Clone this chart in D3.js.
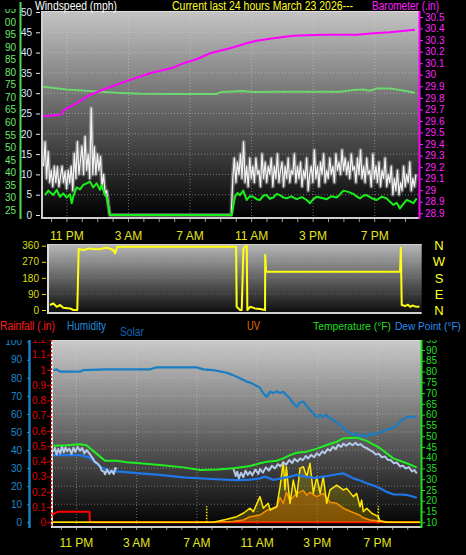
<!DOCTYPE html>
<html><head><meta charset="utf-8">
<script src="https://cdn.jsdelivr.net/npm/d3@7"></script>
<style>html,body{margin:0;padding:0;background:#000;overflow:hidden}</style>
</head><body>
<script>
// ================= DATA =================
// time in hours since chart start (~9:20 PM)
const timeTickHours = [1.62, 5.62, 9.62, 13.62, 17.62, 21.62];
const timeTickLabels = ["11 PM", "3 AM", "7 AM", "11 AM", "3 PM", "7 PM"];

const windTicks = [0,5,10,15,20,25,30,35,40,45,50];
const indoorTicks = [25,30,35,40,45,50,55,60,65,70,75,80,85,90,95,100,105];
const baroTicks = [30.5,30.4,30.3,30.2,30.1,30.0,29.9,29.8,29.7,29.6,29.5,29.4,29.3,29.2,29.1,29.0,28.9,28.8];
const baroTickLabels = ["30.5","30.4","30.3","30.2","30.1","30","29.9","29.8","29.7","29.6","29.5","29.4","29.3","29.2","29.1","29","28.9","28.9"];
const dirTicks = [0,90,180,270,360];
const dirLetters = ["N","E","S","W","N"];
const humTicks = [0,10,20,30,40,50,60,70,80,90,100];
const rainTicks = [0,0.1,0.2,0.3,0.4,0.5,0.6,0.7,0.8,0.9,1,1.1,1.2];
const tempTicks = [10,15,20,25,30,35,40,45,50,55,60,65,70,75,80,85,90,95];

// barometer (inHg)
const baroSeries = [[0.08,29.643],[1.17,29.652],[1.49,29.70],[2.03,29.738],[3.12,29.825],[4.2,29.883],[5.72,29.955],[7.02,30.013],[8.51,30.061],[9.18,30.099],[10.05,30.134],[10.92,30.186],[12.22,30.229],[13.3,30.272],[13.95,30.295],[15.03,30.316],[16.33,30.338],[18.28,30.347],[20.45,30.347],[21.53,30.359],[22.61,30.368],[24.24,30.389]];
// indoor temperature (F)
const indoorSeries = [[0.08,74.2],[1.6,73.1],[3.12,72.5],[4.85,71.8],[6.37,71.4],[8.51,71.3],[11.35,71.3],[11.68,72.1],[13.06,72.5],[13.73,72.1],[15.01,72.2],[17.2,72.2],[19.36,72.2],[20.23,72.9],[20.88,73.1],[21.31,72.6],[21.75,73.5],[22.61,73.5],[23.26,72.9],[24.24,71.8]];
// average wind (mph)
const windAvg = [[0.19,4.9],[0.41,6.0],[0.73,4.9],[0.96,6.2],[1.17,4.5],[1.38,5.3],[1.6,4.3],[1.82,5.1],[1.93,2.9],[2.03,4.5],[2.25,6.8],[2.47,6.3],[2.68,7.4],[2.9,7.8],[3.12,8.2],[3.33,6.8],[3.55,7.8],[3.77,6.2],[3.88,7.4],[4.09,4.9],[4.2,4.5],[4.42,0],[12.33,0],[12.54,4.5],[12.7,5.4],[12.87,4.9],[13.08,6.0],[13.3,3.7],[13.5,4.6],[13.73,4.5],[13.95,3.9],[14.16,3.7],[14.4,4.8],[14.6,4.9],[14.8,4.0],[15.03,4.3],[15.25,5.2],[15.46,4.9],[15.7,4.3],[15.9,4.1],[16.2,4.6],[16.55,3.9],[16.9,4.4],[17.2,3.7],[17.42,2.9],[17.6,3.8],[17.85,4.5],[18.2,4.2],[18.5,3.9],[18.8,4.6],[19.15,4.3],[19.35,5.0],[19.58,6.0],[19.9,5.7],[20.23,5.2],[20.45,4.6],[20.66,4.1],[20.9,4.8],[21.1,4.9],[21.4,4.2],[21.75,3.7],[22.1,4.5],[22.4,4.1],[22.6,3.3],[22.83,2.5],[23.05,3.0],[23.26,1.6],[23.5,2.8],[23.7,3.7],[23.9,3.4],[24.13,2.9],[24.35,4.1]];
// wind gust (mph), sampled every 0.1 h
const gustStep = 0.1;
const gust1Start = 0.1;
const gust1 = [12,18,9,15.6,8,11,7,12,8,11.9,7,9.4,12,8,10.7,6.5,11,7.9,12,6,15.2,9,18,10,13.5,17,10,19.3,11,15,9,26.3,10,16.8,10,15,11,14.4,7,10,5.4,6,3,0];
const gust2Start = 12.3;
const gust2 = [0,9,14,8,13,10,15,9,18,8,12,7,14,9,12,8,14,10,11,7,15,9,13,8,12,10,14,7,12,9,15,8,11,13,7,12,9,14,8,11,10,15,8,12,9,13,7,11,9,14,6,10,12,8,16,9,12,7,13,10,15,8,11,9,14,10,12,8,15,11,13,10,16,11,14,10,13,9,15,11,12,8,14,10,16,9,12,8,14,10,11,7,15,9,12,8,13,7,11,9,14,7,10,8,12,5,9,6,11,5,8,6,12,7,10,8,13,6,9,7,10];

// wind direction (degrees)
const dirSeries = [[0.13,28],[0.35,37],[0.57,18],[0.79,28],[1.0,13],[1.44,9],[1.66,0],[1.92,0],[2.01,341],[2.31,336],[2.75,345],[3.1,340],[3.41,341],[3.85,349],[4.28,336],[4.39,317],[4.54,354],[12.15,354],[12.33,354],[12.37,18],[12.59,0],[12.7,0],[12.81,345],[12.92,354],[13.03,360],[13.07,0],[13.25,18],[13.57,9],[13.9,5],[14.23,0],[14.24,308],[14.3,214],[23.08,214],[23.13,349],[23.19,28],[23.41,22],[23.6,30],[23.74,18],[23.9,25],[24.07,20],[24.35,18]];

// humidity (%)
const humSeries = [[0.09,84.3],[0.31,84.7],[0.53,83.4],[1.86,83.4],[2.08,84.3],[3.63,84.7],[6.51,84.7],[6.73,85.3],[6.95,85.8],[9.61,85.8],[10.05,84.7],[10.71,84.3],[11.6,82.8],[12.0,81.5],[12.48,79.7],[12.93,77.9],[13.2,77.2],[13.59,75.5],[13.8,74.5],[14.03,71.4],[14.26,69.5],[14.48,72.3],[14.7,71.5],[14.9,72.5],[15.14,71.6],[15.35,72.2],[15.58,70.4],[15.8,68.5],[16.05,65.5],[16.25,64],[16.45,66.2],[16.69,66.8],[16.9,64.5],[17.13,62.2],[17.35,60.2],[17.58,58.1],[17.8,59.5],[18.0,58.3],[18.2,59.6],[18.46,57.6],[18.7,56.5],[18.9,55.4],[19.12,53.9],[19.35,52.5],[19.55,50.5],[19.79,49.3],[20.0,48.2],[20.2,49.4],[20.45,47],[20.65,48.6],[20.9,47.4],[21.1,49.1],[21.33,48.3],[21.6,49.5],[21.99,50.2],[22.3,51.5],[22.66,52.3],[22.9,53.8],[23.11,55.7],[23.35,57.3],[23.55,58.1],[23.8,58.6],[24.0,58.3],[24.22,58.6]];
// temperature (F)
const tempSeries = [[0.09,45.6],[1.0,45.8],[1.86,46.2],[2.3,45.8],[2.52,44.4],[3.19,40.5],[3.52,38.6],[4.3,38.6],[4.96,37.9],[5.84,37.4],[7.17,36.6],[8.72,35.5],[9.83,34.3],[11.0,34.5],[12.04,35.1],[13.15,36.1],[13.81,37.4],[14.26,38.1],[14.92,38.6],[15.36,39.7],[15.8,41.2],[16.25,42.3],[16.91,42.8],[17.58,44.2],[18.24,45.9],[18.9,47.4],[19.34,49],[20.23,49.3],[20.9,47.8],[21.78,44.4],[22.66,39.7],[23.55,37.4],[24.22,35.5]];
// wind chill (F)
const chillSeries1 = [[0.09,42.8],[0.2,44.5],[0.3,41.5],[0.42,44],[0.55,42],[0.66,45.2],[0.78,42.5],[0.9,44.8],[1.0,43],[1.15,44.2],[1.3,41.8],[1.42,44.6],[1.55,42.7],[1.7,45],[1.86,43.2],[2.0,44.5],[2.15,42],[2.3,43.5],[2.52,41.5],[2.7,39.8],[2.85,38],[3.0,37.5],[3.19,36],[3.3,34],[3.45,33.5],[3.52,32.3],[3.65,34.5],[3.8,32.5],[3.95,34],[4.1,32.4],[4.2,35.2],[4.3,34.7]];
const chillSeries2 = [[12.04,35],[12.2,31.5],[12.3,33.5],[12.4,30.4],[12.55,33],[12.7,31],[12.85,34],[13.0,32],[13.15,33.5],[13.3,31.8],[13.5,34.5],[13.7,32.5],[13.81,34.8],[14.0,33],[14.2,35.5],[14.4,34],[14.6,36.2],[14.8,35],[15.0,37],[15.15,36],[15.36,37.8],[15.55,36.8],[15.75,38.9],[15.95,37.5],[16.1,39.5],[16.3,38.2],[16.47,39.7],[16.65,38.8],[16.85,40.8],[17.0,39.6],[17.2,41.3],[17.4,40.2],[17.58,42],[17.75,41],[17.95,43],[18.1,42],[18.3,44],[18.46,43.2],[18.65,45],[18.85,44],[19.0,46],[19.2,45],[19.34,46.5],[19.55,45.5],[19.75,46.8],[19.95,45.8],[20.15,46.9],[20.3,45.9],[20.5,46.2],[20.7,45],[20.9,44.4],[21.1,43.5],[21.3,42.8],[21.5,41.5],[21.7,41.8],[21.9,40.2],[22.1,40.6],[22.3,39],[22.5,38.8],[22.7,37.4],[22.9,37.8],[23.1,36],[23.3,36.3],[23.5,35],[23.7,35.6],[23.9,33.6],[24.05,34.3],[24.22,32.7]];
// dew point (F)
const dewSeries = [[0.09,41.2],[1.86,41.2],[2.52,40],[3.19,35.8],[3.85,33.8],[4.51,33.5],[5.84,32.7],[7.17,32],[8.72,30.9],[10.93,30],[12.26,29.6],[13.15,29.8],[13.81,30.4],[14.15,31.2],[14.7,29.7],[15.3,30.5],[15.8,31.2],[16.25,32],[16.91,31.1],[17.5,30.6],[18.0,31.2],[18.4,31.6],[18.9,32.3],[19.34,32.7],[19.6,31.8],[20.01,30.4],[20.45,29.4],[20.9,28.1],[21.3,27.2],[21.78,25.8],[22.2,24.2],[22.66,23],[23.1,22.9],[23.55,22.7],[23.9,22.1],[24.22,21.4]];
// rainfall (in)
const rainSeries = [[0.0,0.048],[0.2,0.06],[0.42,0.07],[2.49,0.07],[2.52,0],[24.4,0]];
// solar radiation (W/m2)
const solarSeries = [[0.0,0],[10.71,0],[11.6,17],[12.26,31],[12.7,50],[13.15,78],[13.37,59],[13.81,142],[14.03,78],[14.36,105],[14.48,68],[14.92,86],[15.14,197],[15.36,336],[15.47,179],[15.56,308],[15.8,105],[16.02,234],[16.25,142],[16.47,300],[16.69,308],[16.91,252],[17.13,327],[17.35,161],[17.58,252],[17.8,161],[18.01,252],[18.24,105],[18.46,179],[18.9,206],[19.34,179],[19.57,188],[20.01,142],[20.23,160],[20.45,86],[20.56,123],[20.67,59],[20.9,78],[21.23,50],[21.67,31],[21.78,7],[22.22,0],[24.45,0]];
// UV index (scaled x100)
const uvSeries = [[0.0,0],[10.49,0],[12.0,5],[12.7,13],[13.15,31],[13.81,40],[14.26,66],[14.92,86],[15.14,138],[15.36,105],[15.56,166],[15.8,122],[16.25,160],[16.69,177],[16.91,150],[17.13,166],[17.58,142],[18.01,160],[18.46,111],[18.9,105],[19.34,78],[19.79,61],[20.45,39],[20.67,25],[21.12,13],[22.22,3],[22.78,0],[24.45,0]];
// sunrise / sunset
const sunEvents = [10.27, 21.67];

// ================= DRAW =================
const FONT = "'Liberation Sans', Arial, Helvetica, sans-serif";
const svg = d3.select("body").append("svg").attr("width", 466).attr("height", 555)
  .style("background", "#000").style("display", "block");
const defs = svg.append("defs");
function grad(id, c0, c1) {
  const g = defs.append("linearGradient").attr("id", id).attr("x1", 0).attr("y1", 0).attr("x2", 0).attr("y2", 1);
  g.append("stop").attr("offset", "0%").attr("stop-color", c0);
  g.append("stop").attr("offset", "100%").attr("stop-color", c1);
}
grad("gTop", "#c4c4c4", "#000000");
grad("gMid", "#b8b8b8", "#0c0c0c");
grad("gBot", "#cacaca", "#000000");
defs.append("clipPath").attr("id", "clipIndoor").append("rect").attr("x", 5).attr("y", 9).attr("width", 20).attr("height", 215);
defs.append("clipPath").attr("id", "clipBotAxes").append("rect").attr("x", 0).attr("y", 340).attr("width", 466).attr("height", 200);

const T = [0, 24.5];
const sx = d3.scaleLinear().domain(T).range([42, 419]);
const mx = d3.scaleLinear().domain(T).range([48, 421.7]);
const bx = d3.scaleLinear().domain(T).range([52, 421]);

const pTop = {x0: 42, x1: 419, y0: 11, y1: 218};
const pMid = {x0: 48, x1: 421.7, y0: 244, y1: 313};
const pBot = {x0: 52, x1: 421, y0: 340, y1: 527};

const yWind = d3.scaleLinear().domain([0, 50]).range([215, 12]);
const yIndoor = d3.scaleLinear().domain([25, 100]).range([210, 22]);
const yBaro = d3.scaleLinear().domain([28.8, 30.5]).range([213.3, 17]);
const yDir = d3.scaleLinear().domain([0, 360]).range([310, 245.7]);
const yHum = d3.scaleLinear().domain([0, 100]).range([522.3, 341.7]);
const yTemp = d3.scaleLinear().domain([10, 90]).range([522.3, 350]);
const yRain = d3.scaleLinear().domain([0, 1]).range([522.3, 370]);
const ySolar = d3.scaleLinear().domain([0, 1000]).range([522.3, 341.7]);

function panelBg(p, gid) {
  svg.append("rect").attr("x", p.x0).attr("y", p.y0).attr("width", p.x1 - p.x0).attr("height", p.y1 - p.y0)
    .attr("fill", `url(#${gid})`);
}
panelBg(pTop, "gTop"); panelBg(pMid, "gMid"); panelBg(pBot, "gBot");

function hGrid(p, ys, op) {
  svg.append("g").selectAll("line").data(ys).join("line")
    .attr("x1", p.x0).attr("x2", p.x1).attr("y1", d => d).attr("y2", d => d)
    .attr("stroke", "#d8d8d8").attr("stroke-opacity", op).attr("stroke-dasharray", "1,2");
}
function vGrid(p, xs, op) {
  svg.append("g").selectAll("line").data(xs).join("line")
    .attr("y1", p.y0).attr("y2", p.y1).attr("x1", d => d).attr("x2", d => d)
    .attr("stroke", "#d8d8d8").attr("stroke-opacity", op).attr("stroke-dasharray", "1,2");
}
hGrid(pTop, windTicks.slice(1, 10).map(yWind), 0.45);
vGrid(pTop, timeTickHours.map(sx), 0.45);
hGrid(pMid, [90, 180, 270].map(yDir), 0.25);
hGrid(pBot, humTicks.slice(1, 10).map(yHum), 0.4);
vGrid(pBot, timeTickHours.map(bx), 0.45);

// panel borders
function border(p, left, bottom, topC) {
  svg.append("line").attr("x1", p.x0).attr("x2", p.x0).attr("y1", p.y0).attr("y2", p.y1 + 1).attr("stroke", left).attr("stroke-width", 2);
  svg.append("line").attr("x1", p.x0).attr("x2", p.x1).attr("y1", p.y1).attr("y2", p.y1).attr("stroke", bottom).attr("stroke-width", 2);
  svg.append("line").attr("x1", p.x0).attr("x2", p.x1).attr("y1", p.y0 + 0.5).attr("y2", p.y0 + 0.5).attr("stroke", topC).attr("stroke-width", 1);
}
border(pTop, "#cfcfcf", "#cfcfcf", "#dcdcdc");
border(pMid, "#dcdcdc", "#cfcfcf", "#cccccc");
border(pBot, "#e8e8e8", "#cfcfcf", "#d8d8d8");

// hourly minor ticks
const hourTicks = d3.range(0, 25).map(k => 0.62 + k).filter(h => h < 24.5);
svg.append("g").selectAll("line").data(hourTicks).join("line")
  .attr("x1", d => sx(d)).attr("x2", d => sx(d)).attr("y1", pTop.y1 + 1).attr("y2", pTop.y1 + 4).attr("stroke", "#9a9a9a");
svg.append("g").selectAll("line").data(hourTicks).join("line")
  .attr("x1", d => bx(d)).attr("x2", d => bx(d)).attr("y1", pBot.y1 + 1).attr("y2", pBot.y1 + 3).attr("stroke", "#9a9a9a");

// ---------- top panel series ----------
const mkLine = (xs, ys) => d3.line().x(d => xs(d[0])).y(d => ys(d[1]));
function path(data, xs, ys, color, w) {
  return svg.append("path").datum(data).attr("d", mkLine(xs, ys)).attr("fill", "none")
    .attr("stroke", color).attr("stroke-width", w).attr("stroke-linejoin", "round");
}
path(indoorSeries, sx, yIndoor, "#6ed66e", 2);
path(baroSeries, sx, yBaro, "#ff00ff", 2);
const gustPts = gust1.map((v, i) => [gust1Start + i * gustStep, v])
  .concat(gust2.map((v, i) => [gust2Start + i * gustStep, v]));
path(gustPts, sx, yWind, "rgba(230,230,230,0.35)", 4);
path(gustPts, sx, yWind, "#f4f4f4", 1.2);
path(windAvg, sx, yWind, "#19f019", 2);

// ---------- middle panel ----------
path(dirSeries, mx, yDir, "#ffff10", 2);

// ---------- bottom panel ----------
path(humSeries, bx, yHum, "#1a7fc2", 2.2);
path(rainSeries, bx, yRain, "#ff0000", 2);
svg.append("path").datum(uvSeries).attr("d", d3.area().x(d => bx(d[0])).y0(ySolar(0)).y1(d => ySolar(d[1])))
  .attr("fill", "rgba(220,100,0,0.4)");
path(uvSeries, bx, ySolar, "#f07800", 1.5);
svg.append("path").datum(solarSeries).attr("d", d3.area().x(d => bx(d[0])).y0(ySolar(0)).y1(d => ySolar(d[1])))
  .attr("fill", "rgba(255,225,0,0.22)");
path(solarSeries, bx, ySolar, "#ffe600", 1.5);
svg.append("g").selectAll("line").data(sunEvents).join("line")
  .attr("x1", d => bx(d)).attr("x2", d => bx(d)).attr("y1", yRain(0)).attr("y2", yRain(0) - 16)
  .attr("stroke", "#ffee00").attr("stroke-width", 1.5).attr("stroke-dasharray", "1.5,1.5");
path(dewSeries, bx, yTemp, "#1e78ea", 2.2);
path(chillSeries1, bx, yTemp, "#b4c8e8", 2);
path(chillSeries2, bx, yTemp, "#b4c8e8", 2);
path(tempSeries, bx, yTemp, "#22ee22", 2);

// ---------- axes ----------
function styleAxis(g, color, size) {
  g.attr("font-family", FONT).attr("font-size", size);
  g.select(".domain").remove();
  g.selectAll(".tick line").attr("stroke", color);
  g.selectAll(".tick text").attr("fill", color);
  return g;
}
function axisGroup(clipId, x) {
  const outer = svg.append("g");
  if (clipId) outer.attr("clip-path", `url(#${clipId})`);
  return outer.append("g").attr("transform", `translate(${x},0)`);
}
// indoor temp (green, far left)
svg.append("line").attr("x1", 20.5).attr("x2", 20.5).attr("y1", 2).attr("y2", 219).attr("stroke", "#4ede4e").attr("stroke-width", 2);
styleAxis(axisGroup("clipIndoor", 21)
  .call(d3.axisLeft(yIndoor).tickValues(indoorTicks).tickSize(0).tickPadding(5).tickFormat(d3.format("d"))), "#6ee66e", 10);
// wind speed
styleAxis(axisGroup(null, 40)
  .call(d3.axisLeft(yWind).tickValues(windTicks).tickSize(4).tickPadding(4)), "#dfe8ff", 10);
// barometer
svg.append("line").attr("x1", 419.5).attr("x2", 419.5).attr("y1", pTop.y0).attr("y2", pTop.y1 + 1).attr("stroke", "#ff00ff").attr("stroke-width", 2);
styleAxis(axisGroup(null, 420)
  .call(d3.axisRight(yBaro).tickValues(baroTicks).tickSize(3).tickPadding(2).tickFormat((d, i) => baroTickLabels[i])), "#ff22ff", 10);
// direction
styleAxis(axisGroup(null, 46)
  .call(d3.axisLeft(yDir).tickValues(dirTicks).tickSize(4).tickPadding(3)), "#dede10", 10);
svg.append("g").selectAll("text").data(dirTicks).join("text")
  .attr("x", 439).attr("y", d => yDir(d)).attr("dy", "0.36em").attr("text-anchor", "middle")
  .attr("font-family", FONT).attr("font-size", 13).attr("fill", "#ffff20")
  .text((d, i) => dirLetters[i]);
// humidity
svg.append("line").attr("x1", 29.5).attr("x2", 29.5).attr("y1", pBot.y0).attr("y2", pBot.y1 + 1).attr("stroke", "#1a7fc2").attr("stroke-width", 2.5);
styleAxis(axisGroup("clipBotAxes", 29)
  .call(d3.axisLeft(yHum).tickValues(humTicks).tickSize(2).tickPadding(5)), "#1f8ad0", 10);
// rain
styleAxis(axisGroup("clipBotAxes", 51)
  .call(d3.axisLeft(yRain).tickValues(rainTicks).tickSize(4).tickPadding(1).tickFormat(d3.format("~g"))), "#e00000", 10);
svg.append("line").attr("x1", 51.5).attr("x2", 51.5).attr("y1", pBot.y0).attr("y2", pBot.y1).attr("stroke", "#ff2020").attr("stroke-width", 1.5).attr("stroke-dasharray", "2,2");
// temperature
svg.append("line").attr("x1", 421.5).attr("x2", 421.5).attr("y1", pBot.y0).attr("y2", pBot.y1 + 1).attr("stroke", "#22dd22").attr("stroke-width", 2);
styleAxis(axisGroup("clipBotAxes", 422)
  .call(d3.axisRight(yTemp).tickValues(tempTicks).tickSize(3).tickPadding(1)), "#22dd22", 10);

// time labels
function timeLabels(xs, y) {
  svg.append("g").selectAll("text").data(timeTickHours).join("text")
    .attr("x", d => xs(d)).attr("y", y).attr("text-anchor", "middle")
    .attr("font-family", FONT).attr("font-size", 12).attr("fill", "#e4e420")
    .text((d, i) => timeTickLabels[i]);
}
timeLabels(sx, 240);
timeLabels(bx, 547);

// titles
function label(x, y, txt, color, len, size) {
  svg.append("text").attr("x", x).attr("y", y).attr("font-family", FONT).attr("font-size", size || 12)
    .attr("fill", color).attr("textLength", len).attr("lengthAdjust", "spacingAndGlyphs").text(txt);
}
label(35, 10, "Windspeed (mph)", "#ffffff", 82);
label(172, 10, "Current last 24 hours March 23 2026---", "#ffff22", 181);
label(372, 10, "Barometer (.in)", "#ff22ff", 67);
label(0, 330, "Rainfall (.in)", "#ff1a1a", 55);
label(67, 330, "Humidity", "#1f8ad8", 39);
label(120, 336, "Solar", "#1660b0", 24);
label(247, 330, "UV", "#e07000", 13);
label(313, 330, "Temperature (°F)", "#22dd22", 78, 11);
label(395, 330, "Dew Point (°F)", "#2a8cf0", 66, 11);
</script>
</body></html>
